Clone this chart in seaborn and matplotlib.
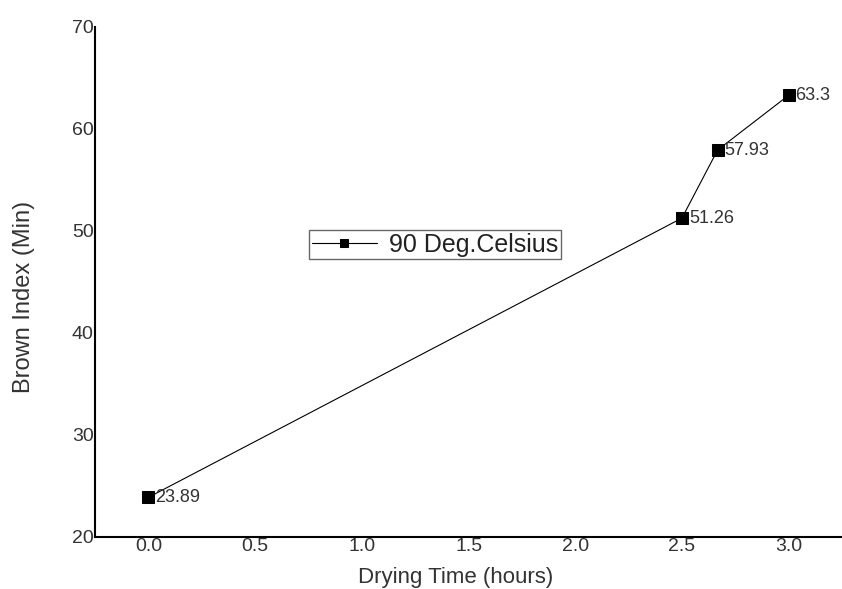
import numpy as np
import pandas as pd
import matplotlib
matplotlib.use("Agg")
import matplotlib.pyplot as plt
import seaborn as sns

drying_time = [0.0, 2.5, 2.667, 3.0]
brown_index = [23.89, 51.26, 57.93, 63.3]
point_labels = ["23.89", "51.26", "57.93", "63.3"]
series_name = "90 Deg.Celsius"

sns.set_style("white")
plt.rcParams["font.family"] = ["Liberation Sans", "DejaVu Sans"]

df = pd.DataFrame({"time": drying_time, "brown": brown_index, "series": series_name})

fig = plt.figure(figsize=(8.42, 5.89), dpi=100)
ax = fig.add_axes([0.113, 0.0883, 0.887, 0.866])

sns.lineplot(data=df, x="time", y="brown", hue="series", palette=["black"],
             marker="s", markersize=8, markeredgecolor="black", linewidth=0.8,
             ax=ax, legend=True)

for x, y, lab in zip(drying_time, brown_index, point_labels):
    ax.annotate(lab, (x, y), xytext=(5, 0), textcoords="offset points",
                va="center", ha="left", fontsize=13, color="#333333")

ax.set_xlim(-0.25, 3.25)
ax.set_ylim(20, 70)
ax.set_xticks([0.0, 0.5, 1.0, 1.5, 2.0, 2.5, 3.0])
ax.set_xticklabels(["0.0", "0.5", "1.0", "1.5", "2.0", "2.5", "3.0"])
ax.set_yticks([20, 30, 40, 50, 60, 70])
ax.tick_params(axis="both", length=0, labelsize=14, labelcolor="#333333")
ax.tick_params(axis="x", pad=1)
ax.tick_params(axis="y", pad=1)
for side in ["top", "right"]:
    ax.spines[side].set_visible(False)
for side in ["left", "bottom"]:
    ax.spines[side].set_color("black")
    ax.spines[side].set_linewidth(1.5)

ax.set_xlabel("Drying Time (hours)", fontsize=16, color="#333333")
ax.set_ylabel("Brown Index (Min)", fontsize=17, color="#333333")
ax.xaxis.set_label_coords(0.482, -0.058)
ax.yaxis.set_label_coords(-0.08, 0.47)

leg = ax.legend(loc="center", bbox_to_anchor=(0.455, 0.573), fontsize=18,
                frameon=True, fancybox=False, edgecolor="#444444",
                handlelength=2.6, borderpad=0.1, borderaxespad=0,
                handletextpad=0.5)
leg.get_frame().set_linewidth(1.0)
for h in leg.legend_handles:
    h.set_markersize(6)
for t in leg.get_texts():
    t.set_color("#222222")

fig.savefig("out.png", dpi=100)
